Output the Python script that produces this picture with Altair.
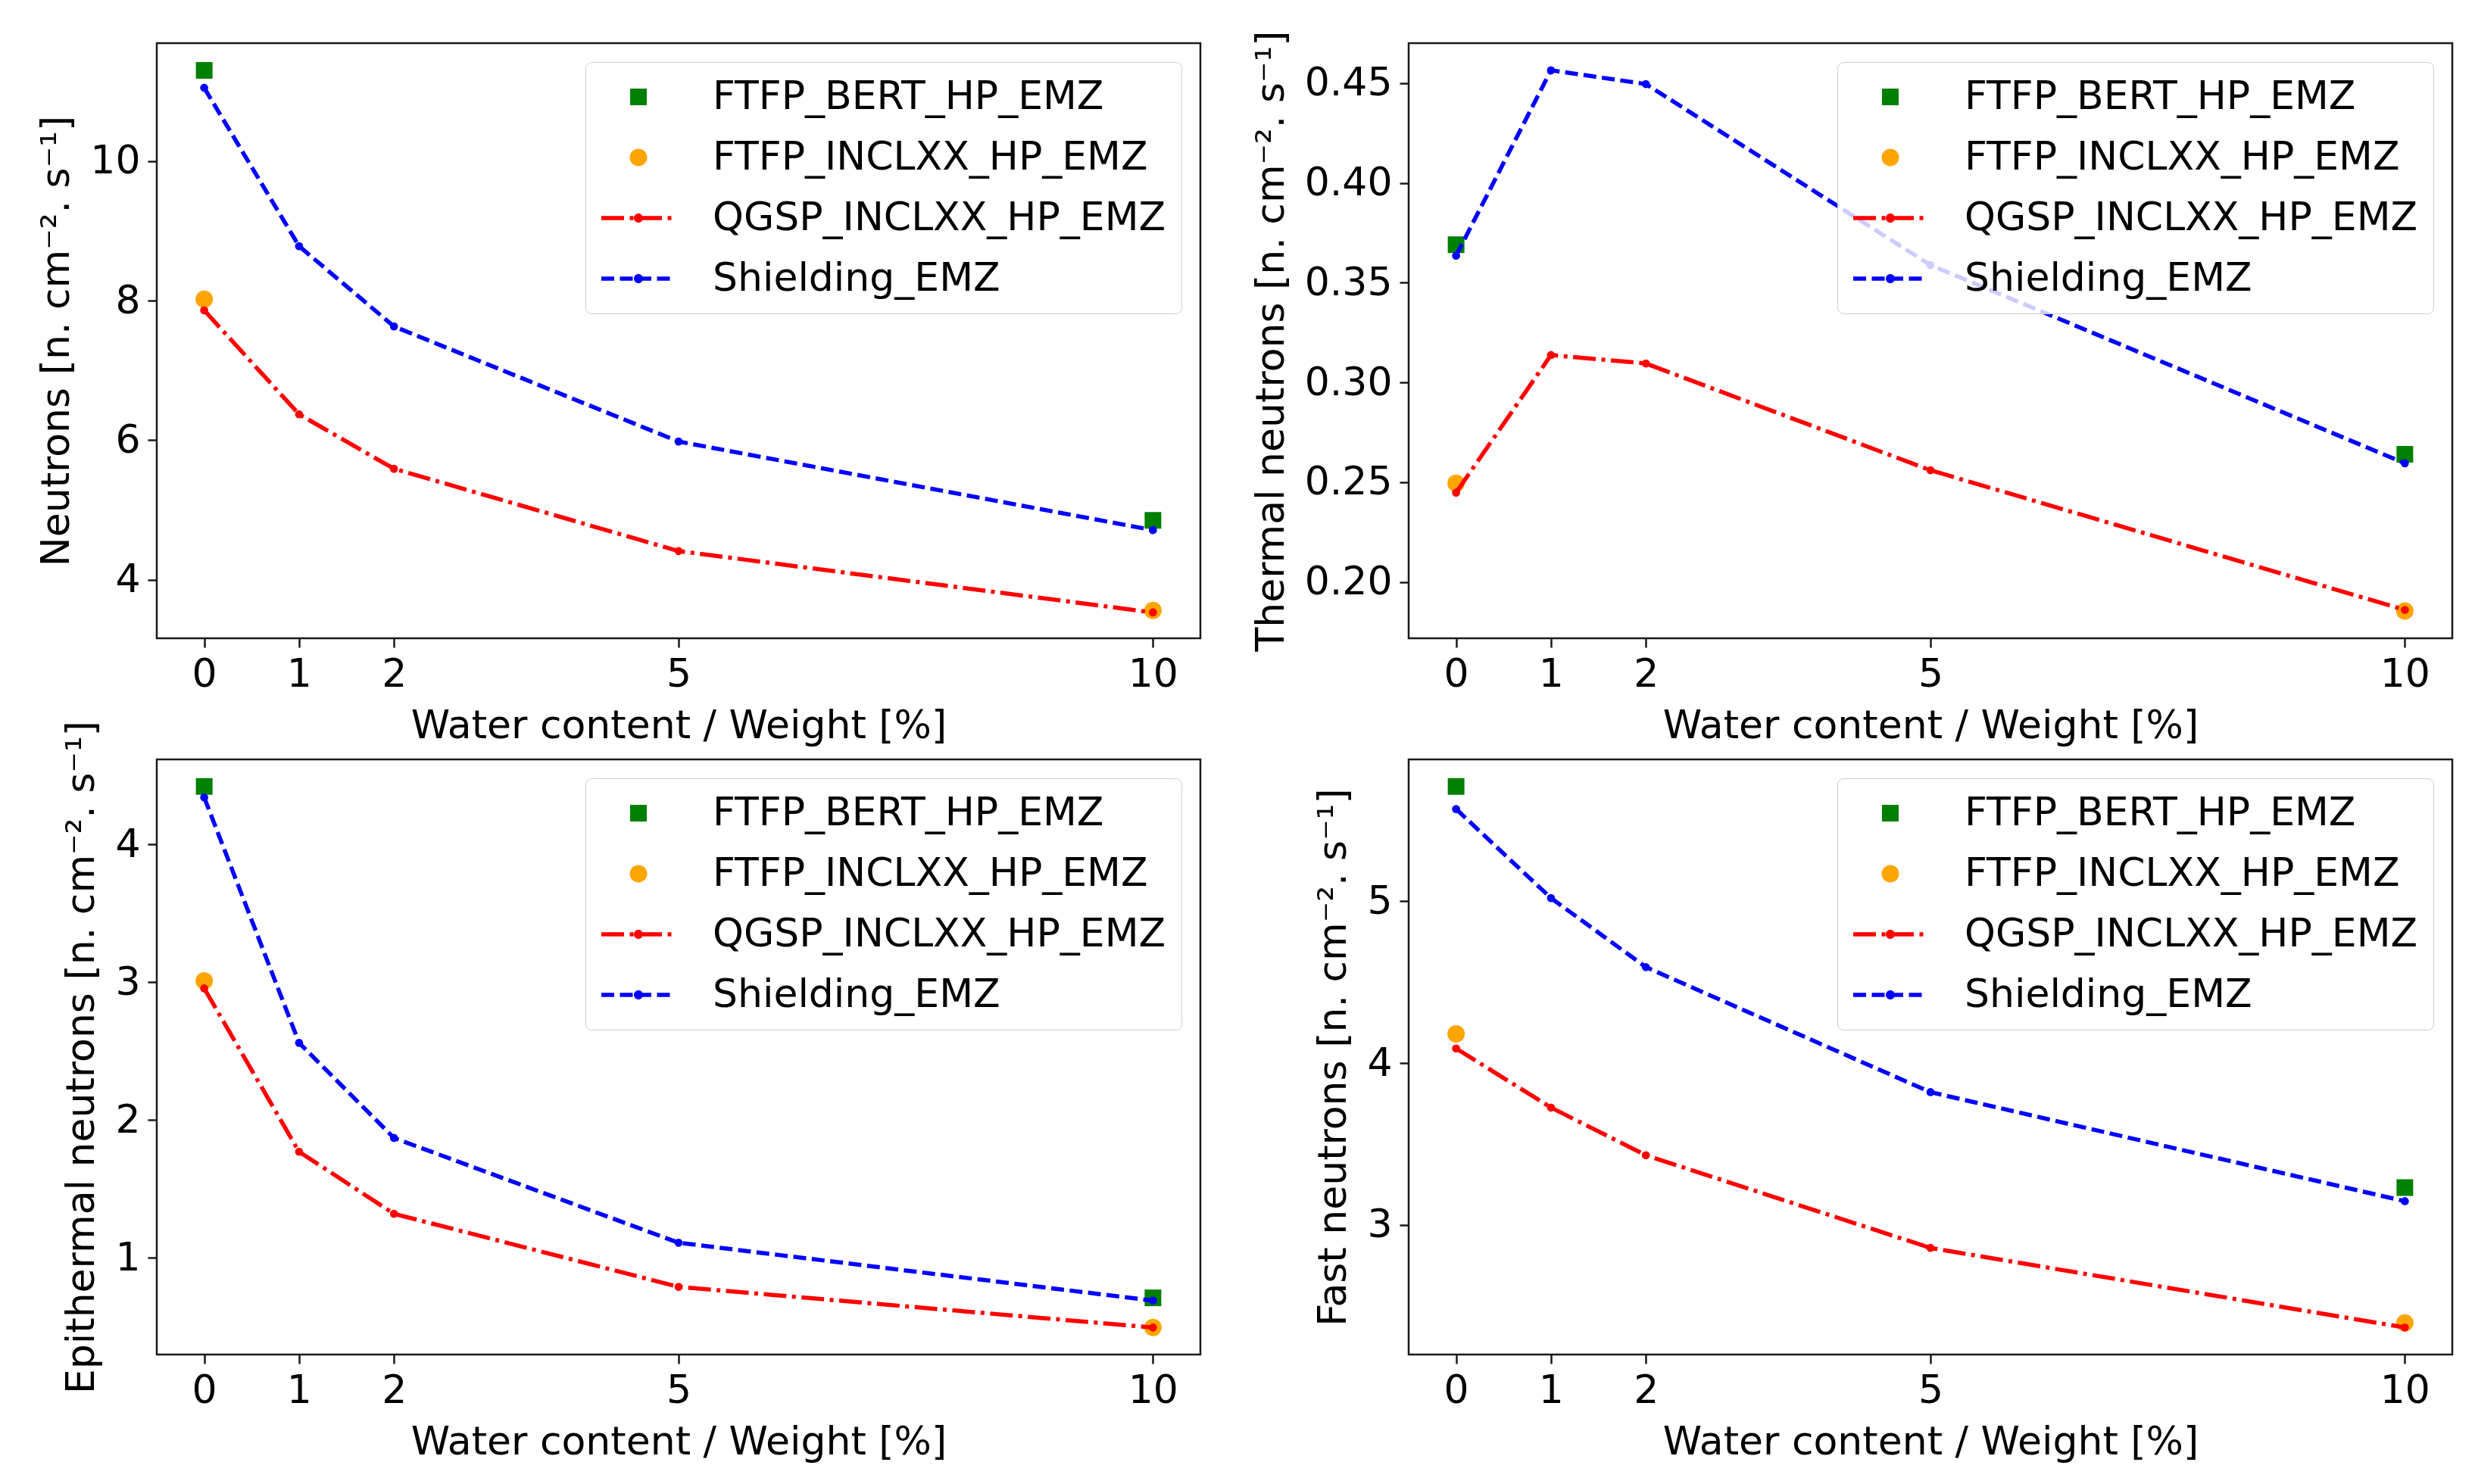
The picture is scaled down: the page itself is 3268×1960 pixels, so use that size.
import altair as alt
import pandas as pd

# ---------------- data ----------------
X_LINE = [0, 1, 2, 5, 10]
X_MC = [0, 10]
SERIES = ["FTFP_BERT_HP_EMZ", "FTFP_INCLXX_HP_EMZ", "QGSP_INCLXX_HP_EMZ", "Shielding_EMZ"]
COLORS = ["#008000", "#FFA500", "#FF0000", "#0000FF"]
X_TICKS = [0, 1, 2, 5, 10]

# Neutrons (total)
n_bert = [11.30, 4.85]
n_inclxx = [8.02, 3.56]
n_qgsp = [7.86, 6.37, 5.59, 4.41, 3.53]
n_shield = [11.05, 8.78, 7.63, 5.98, 4.71]

# Thermal neutrons
t_bert = [0.369, 0.264]
t_inclxx = [0.2495, 0.1855]
t_qgsp = [0.2448, 0.3137, 0.3095, 0.2560, 0.1860]
t_shield = [0.3635, 0.4564, 0.4495, 0.3588, 0.2595]

# Epithermal neutrons
e_bert = [4.42, 0.71]
e_inclxx = [3.01, 0.496]
e_qgsp = [2.955, 1.77, 1.32, 0.79, 0.495]
e_shield = [4.34, 2.56, 1.87, 1.11, 0.69]

# Fast neutrons
f_bert = [5.71, 3.23]
f_inclxx = [4.18, 2.394]
f_qgsp = [4.09, 3.725, 3.43, 2.857, 2.365]
f_shield = [5.57, 5.02, 4.593, 3.82, 3.146]

FONT = "DejaVu Sans"
FS = 52
LW = 5.5
DASH_SHIELD = [17, 7.5]
DASH_QGSP = [30, 7.5, 5, 7.5]

# ---------------- marker / legend symbol shapes ----------------
SYM = 52            # nominal symbol box (px) -> legend row height
U = SYM / 2.0       # px per path unit
HALF_LINE = 49.0    # half length of legend line sample (px)


def f(v):
    return f"{v:.4f}"


def circle_path(r):
    return f"M{f(r)},0A{f(r)},{f(r)},0,1,1,{f(-r)},0A{f(r)},{f(r)},0,1,1,{f(r)},0Z"


def square_path(h):
    return f"M{f(-h)},{f(-h)}H{f(h)}V{f(h)}H{f(-h)}Z"


def dashed_line_path(pattern, dot_r):
    t = LW / 2.0 / U
    end = HALF_LINE / U
    segs = []
    pos = -end
    i = 0
    while pos < end:
        ln = pattern[i % len(pattern)] / U
        if i % 2 == 0:
            a, b = pos, min(pos + ln, end)
            segs.append(f"M{f(a)},{f(-t)}H{f(b)}V{f(t)}H{f(a)}Z")
        pos += ln
        i += 1
    return "".join(segs) + circle_path(dot_r)


SHAPES = [
    square_path(11 / U),
    circle_path(11.5 / U),
    dashed_line_path(DASH_QGSP, 6 / U),
    dashed_line_path(DASH_SHIELD, 6 / U),
]

legend_def = alt.Legend(
    title=None,
    orient="top-right",
    offset=25,
    padding=20,
    fillColor="rgba(255,255,255,0.8)",
    strokeColor="#cccccc",
    cornerRadius=8,
    symbolSize=SYM * SYM,
    symbolStrokeWidth=0,
    symbolOpacity=1,
    symbolOffset=24,
    labelFont=FONT,
    labelFontSize=FS,
    labelColor="black",
    labelLimit=2000,
    labelOffset=72,
    rowPadding=28,
)


def panel(bert, inclxx, qgsp, shield, ytitle, yticks, ydomain, yfmt):
    mc = pd.DataFrame({
        "x": X_MC + X_MC,
        "y": bert + inclxx,
        "series": [SERIES[0]] * len(X_MC) + [SERIES[1]] * len(X_MC),
    })
    ln = pd.DataFrame({
        "x": X_LINE + X_LINE,
        "y": qgsp + shield,
        "series": [SERIES[2]] * len(X_LINE) + [SERIES[3]] * len(X_LINE),
    })
    x = alt.X("x:Q", scale=alt.Scale(domain=[-0.5, 10.5], nice=False, zero=False),
              axis=alt.Axis(values=X_TICKS, format="d", title="Water content / Weight [%]"))
    y = alt.Y("y:Q", scale=alt.Scale(domain=ydomain, nice=False, zero=False),
              axis=alt.Axis(values=yticks, format=yfmt, title=ytitle))
    cscale = alt.Scale(domain=SERIES, range=COLORS)
    pts_mc = alt.Chart(mc).mark_point(filled=True, opacity=1, size=SYM * SYM).encode(
        x=x, y=y,
        color=alt.Color("series:N", scale=cscale, legend=legend_def),
        shape=alt.Shape("series:N", scale=alt.Scale(domain=SERIES, range=SHAPES), legend=legend_def),
    )
    lines = alt.Chart(ln).mark_line(strokeWidth=LW).encode(
        x=x, y=y,
        color=alt.Color("series:N", scale=cscale, legend=None),
        strokeDash=alt.StrokeDash("series:N", scale=alt.Scale(domain=SERIES[2:], range=[DASH_QGSP, DASH_SHIELD]),
                                  legend=None),
    )
    pts_ln = alt.Chart(ln).mark_point(filled=True, opacity=1, size=115, shape="circle").encode(
        x=x, y=y, color=alt.Color("series:N", scale=cscale, legend=None))
    return alt.layer(pts_mc, lines, pts_ln).properties(width=1378, height=786)


p1 = panel(n_bert, n_inclxx, n_qgsp, n_shield, "Neutrons [n. cm⁻². s⁻¹]",
           [4, 6, 8, 10], [3.16, 11.69], "d")
p2 = panel(t_bert, t_inclxx, t_qgsp, t_shield, "Thermal neutrons [n. cm⁻². s⁻¹]",
           [0.20, 0.25, 0.30, 0.35, 0.40, 0.45], [0.1718, 0.4700], ".2f")
p3 = panel(e_bert, e_inclxx, e_qgsp, e_shield, "Epithermal neutrons [n. cm⁻². s⁻¹]",
           [1, 2, 3, 4], [0.299, 4.616], "d")
p4 = panel(f_bert, f_inclxx, f_qgsp, f_shield, "Fast neutrons [n. cm⁻². s⁻¹]",
           [3, 4, 5], [2.198, 5.877], "d")

chart = alt.concat(
    p1, p2, p3, p4, columns=2, spacing={"row": 160, "column": 275}, bounds="flush"
).resolve_scale(
    color="independent", shape="independent", strokeDash="independent"
).resolve_legend(
    color="independent", shape="independent"
).properties(
    padding={"left": 39, "top": 30, "right": 5, "bottom": 5}
).configure_view(
    stroke="#1a1a1a", strokeWidth=2.5
).configure_axis(
    labelFont=FONT, labelFontSize=FS, labelColor="black",
    titleFont=FONT, titleFontSize=FS, titleFontWeight="normal", titleColor="black",
    tickSize=12, tickWidth=2.5, tickColor="#1a1a1a",
    domain=False, grid=False, labelPadding=10, titlePadding=17,
    labelFlush=False, labelOverlap=False,
)

chart.save("out.html", embed_options={"renderer": "svg", "actions": False})
